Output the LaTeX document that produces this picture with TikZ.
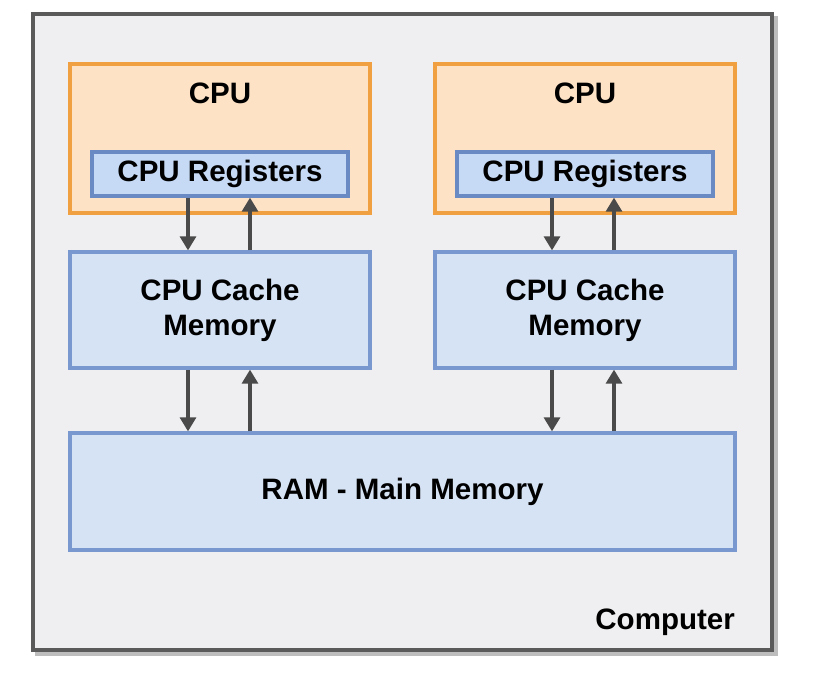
\documentclass[tikz,border=0pt]{standalone}
\usepackage{fontspec}
\setmainfont{Liberation Sans}
\usetikzlibrary{arrows.meta,calc}

\definecolor{boxgray}{HTML}{EFEFF1}
\definecolor{edgegray}{HTML}{5A5A5A}
\definecolor{cpufill}{HTML}{FDE2C6}
\definecolor{cpuedge}{HTML}{F0A040}
\definecolor{regfill}{HTML}{C6DAF5}
\definecolor{regedge}{HTML}{6A8AC4}
\definecolor{memfill}{HTML}{D6E3F5}
\definecolor{memedge}{HTML}{7A98D0}
\definecolor{flowgray}{HTML}{4A4A4A}

\tikzset{
  cpubox/.style={draw=cpuedge, fill=cpufill, line width=2pt, minimum width=300*0.02cm, minimum height=149*0.02cm},
  regbox/.style={draw=regedge, fill=regfill, line width=1.8pt, minimum width=256*0.02cm, minimum height=44*0.02cm},
  membox/.style={draw=memedge, fill=memfill, line width=1.8pt, align=center},
  lbl/.style={font=\fontsize{16.8}{20}\selectfont\bfseries},
  flow/.style={draw=flowgray, line width=2pt, -{Triangle[width=9pt,length=8pt]}}
}

\begin{document}
\begin{tikzpicture}[x=0.02cm, y=-0.02cm]
    \useasboundingbox[fill=white] (0,0) rectangle (825,680);

    % computer frame
    \draw[edgegray!40, line width=2pt] (37,18) rectangle (776,654);
    \draw[edgegray, fill=boxgray, line width=2pt] (33,14) rectangle (772,650);
    \node[lbl, anchor=east] (computer) at (741,622) {Computer};

    % left cpu
    \node[cpubox] (cpuA) at (220,138.5) {};
    \node[lbl] (cpuAtitle) at (220,93) {CPU};
    \node[regbox, lbl] (regA) at (220,174) {CPU Registers};
    \node[membox, lbl, minimum width=300*0.02cm, minimum height=116*0.02cm] (cacheA) at (220,310) {CPU Cache\\Memory};

    % right cpu
    \node[cpubox] (cpuB) at (585,138.5) {};
    \node[lbl] (cpuBtitle) at (585,93) {CPU};
    \node[regbox, lbl] (regB) at (585,174) {CPU Registers};
    \node[membox, lbl, minimum width=300*0.02cm, minimum height=116*0.02cm] (cacheB) at (585,310) {CPU Cache\\Memory};

    % main memory
    \node[membox, lbl, minimum width=665*0.02cm, minimum height=117*0.02cm] (ram) at (402.5,491.5) {RAM - Main Memory};

    % registers <-> cache
    \draw[flow] ($(regA.south)+(-32,0)$) -- ($(cacheA.north)+(-32,0)$);
    \draw[flow] ($(cacheA.north)+(30,0)$) -- ($(regA.south)+(30,0)$);
    \draw[flow] ($(regB.south)+(-33,0)$) -- ($(cacheB.north)+(-33,0)$);
    \draw[flow] ($(cacheB.north)+(29,0)$) -- ($(regB.south)+(29,0)$);

    % cache <-> ram
    \coordinate (downA) at ($(cacheA.south)+(-32,0)$);
    \coordinate (upA) at ($(cacheA.south)+(30,0)$);
    \coordinate (downB) at ($(cacheB.south)+(-33,0)$);
    \coordinate (upB) at ($(cacheB.south)+(29,0)$);
    \draw[flow] (downA) -- (downA |- ram.north);
    \draw[flow] (upA |- ram.north) -- (upA);
    \draw[flow] (downB) -- (downB |- ram.north);
    \draw[flow] (upB |- ram.north) -- (upB);
\end{tikzpicture}
\end{document}
